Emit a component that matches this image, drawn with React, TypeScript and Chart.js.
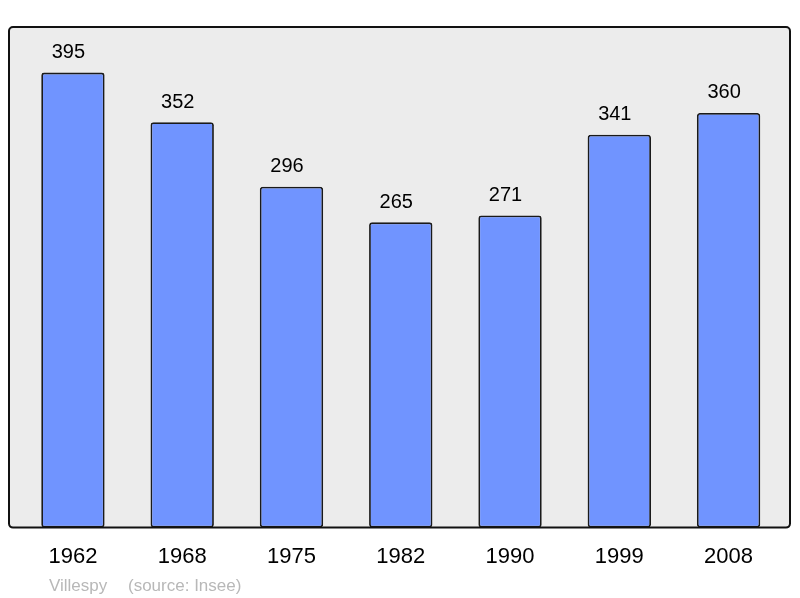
import React, { useEffect, useRef } from "react";
import { Chart, registerables } from "chart.js";

Chart.register(...registerables);

const years = ["1962", "1968", "1975", "1982", "1990", "1999", "2008"];
const population = [395, 352, 296, 265, 271, 341, 360];
const footerName = "Villespy";
const footerSource = "(source: Insee)";

const FONT = "'Liberation Sans', Arial, sans-serif";

const boxPlugin = {
  id: "boxPlugin",
  beforeDraw(chart: any) {
    const { ctx, chartArea, width, height } = chart;
    ctx.save();
    ctx.fillStyle = "#ffffff";
    ctx.fillRect(0, 0, width, height);
    ctx.beginPath();
    (ctx as any).roundRect(chartArea.left, chartArea.top, chartArea.right - chartArea.left, chartArea.bottom - chartArea.top, 4);
    ctx.fillStyle = "#ececec";
    ctx.fill();
    ctx.restore();
  },
  afterDatasetsDraw(chart: any) {
    const { ctx, chartArea } = chart;
    const meta = chart.getDatasetMeta(0);
    ctx.save();
    ctx.fillStyle = "#000000";
    ctx.font = `20px ${FONT}`;
    ctx.textAlign = "center";
    ctx.textBaseline = "alphabetic";
    meta.data.forEach((el: any, i: number) => {
      ctx.fillText(String(population[i]), el.x - 4.5, el.y - 14.5);
    });
    ctx.beginPath();
    (ctx as any).roundRect(chartArea.left, chartArea.top, chartArea.right - chartArea.left, chartArea.bottom - chartArea.top, 4);
    ctx.lineWidth = 2;
    ctx.strokeStyle = "#111111";
    ctx.stroke();
    ctx.font = `17px ${FONT}`;
    ctx.fillStyle = "#b8b8b8";
    ctx.textAlign = "left";
    ctx.fillText(footerName, chartArea.left + 40, chartArea.bottom + 63);
    ctx.fillText(footerSource, chartArea.left + 119, chartArea.bottom + 63);
    ctx.restore();
  },
};

export default function App() {
  const ref = useRef<HTMLCanvasElement | null>(null);
  useEffect(() => {
    if (!ref.current) return;
    const chart = new Chart(ref.current, {
      type: "bar",
      data: {
        datasets: [
          {
            data: population.map((v, i) => ({ x: i, y: v })),
            backgroundColor: "#7094ff",
            borderColor: "#1a1a1a",
            borderWidth: 1.8,
            borderRadius: 3,
            borderSkipped: false,
            categoryPercentage: 1,
            barPercentage: 0.58,
          },
        ],
      },
      options: {
        animation: false,
        responsive: false,
        layout: { padding: { left: 9, right: 10, top: 27, bottom: 12 } },
        plugins: { legend: { display: false }, tooltip: { enabled: false }, title: { display: false } },
        scales: {
          x: {
            type: "linear",
            min: -0.585,
            max: 6.562,
            offset: false,
            grid: { display: false, drawTicks: false, offset: false },
            border: { display: false },
            ticks: {
              stepSize: 1,
              includeBounds: false,
              padding: 16,
              color: "#000000",
              font: { size: 22, family: FONT },
              callback: (v: any) => (Number.isInteger(v) && years[v] ? years[v] : ""),
              autoSkip: false,
              maxRotation: 0,
            },
          },
          y: { display: false, min: 0, max: 434.6 },
        },
      },
      plugins: [boxPlugin],
    });
    return () => chart.destroy();
  }, []);
  return (
    <div style={{ position: "absolute", left: 0, top: 0, width: 800, height: 598 }}>
      <canvas ref={ref} width={800} height={598} style={{ display: "block", width: 800, height: 598 }} />
    </div>
  );
}
